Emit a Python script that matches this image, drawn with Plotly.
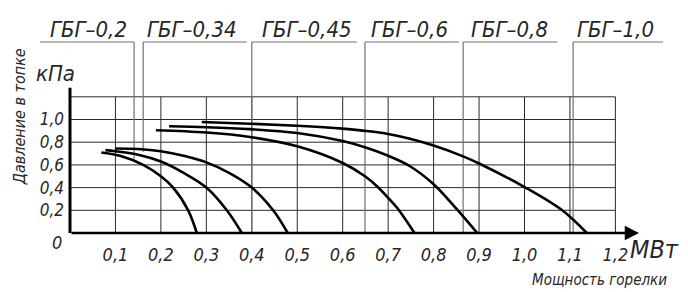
import plotly.graph_objects as go

# ---------------- data ----------------
series_names = ["ГБГ–0,2", "ГБГ–0,34", "ГБГ–0,45", "ГБГ–0,6", "ГБГ–0,8", "ГБГ–1,0"]

x_02 = [0.069, 0.11, 0.161, 0.20, 0.227, 0.26, 0.279]
y_02 = [0.71, 0.68, 0.60, 0.50, 0.40, 0.20, 0.0]

x_034 = [0.078, 0.10, 0.15, 0.20, 0.25, 0.30, 0.345, 0.378]
y_034 = [0.73, 0.72, 0.69, 0.63, 0.53, 0.40, 0.20, 0.0]

x_045 = [0.099, 0.15, 0.20, 0.25, 0.30, 0.35, 0.40, 0.447, 0.479]
y_045 = [0.745, 0.74, 0.72, 0.68, 0.622, 0.53, 0.40, 0.20, 0.0]

x_06 = [0.189, 0.30, 0.396, 0.50, 0.60, 0.649, 0.676, 0.70, 0.72, 0.758]
y_06 = [0.905, 0.885, 0.846, 0.764, 0.617, 0.50, 0.41, 0.31, 0.22, 0.0]

x_08 = [0.218, 0.30, 0.396, 0.50, 0.60, 0.649, 0.70, 0.748, 0.80, 0.851, 0.896]
y_08 = [0.94, 0.932, 0.915, 0.881, 0.81, 0.755, 0.68, 0.588, 0.43, 0.21, 0.0]

x_10 = [0.29, 0.396, 0.50, 0.60, 0.649, 0.70, 0.748, 0.80, 0.865, 0.90, 1.0, 1.083, 1.137]
y_10 = [0.978, 0.963, 0.945, 0.92, 0.90, 0.872, 0.83, 0.77, 0.675, 0.612, 0.405, 0.20, 0.0]

curves_x = [x_02, x_034, x_045, x_06, x_08, x_10]
curves_y = [y_02, y_034, y_045, y_06, y_08, y_10]

# leader lines (label -> curve)
leader_x = [0.141, 0.161, 0.400, 0.649, 0.865, 1.107]
leader_bottom = [0.655, 0.716, 0.0, 0.0, 0.0, 0.0]
underline_x0 = [-0.066, 0.161, 0.400, 0.649, 0.865, 1.107]
underline_x1 = [0.141, 0.389, 0.631, 0.856, 1.072, 1.305]
label_x = [0.040, 0.268, 0.521, 0.748, 0.966, 1.201]
underline_y = 1.683
label_y = 1.797

x_ticks = [0.1, 0.2, 0.3, 0.4, 0.5, 0.6, 0.7, 0.8, 0.9, 1.0, 1.1, 1.2]
x_tick_text = ["0,1", "0,2", "0,3", "0,4", "0,5", "0,6", "0,7", "0,8", "0,9", "1,0", "1,1", "1,2"]
y_ticks = [0.2, 0.4, 0.6, 0.8, 1.0]
y_tick_text = ["0,2", "0,4", "0,6", "0,8", "1,0"]
grid_y = [0.2, 0.4, 0.6, 0.8, 1.0, 1.2]
grid_top = 1.2
grid_right = 1.2
x_arrow_end = 1.252
y_axis_top = 1.28

FONT = "Liberation Sans Narrow, DejaVu Sans Condensed, DejaVu Sans, sans-serif"
TXT = "#262626"

px_per_x = 454.5
px_per_y = 113.5
left_m, right_m, top_m, bot_m = 30, 4, 6, 59
xmin = -(70 - left_m) / px_per_x
xmax = xmin + (688 - left_m - right_m) / px_per_x
ymax = (292 - top_m - bot_m) / px_per_y


def to_paper(x, y):
    return (x - xmin) / (xmax - xmin), y / ymax


fig = go.Figure()

# grid
gx, gy = [], []
for v in x_ticks:
    gx += [v, v, None]
    gy += [0, grid_top, None]
for v in grid_y:
    gx += [0, grid_right, None]
    gy += [v, v, None]
fig.add_trace(go.Scatter(x=gx, y=gy, mode="lines", line=dict(color="#2a2a2a", width=1),
                         hoverinfo="skip", showlegend=False))

# leader lines and underlines
lx, ly = [], []
for i in range(len(series_names)):
    lx += [leader_x[i], leader_x[i], None, underline_x0[i], underline_x1[i], None]
    ly += [leader_bottom[i], underline_y, None, underline_y, underline_y, None]
fig.add_trace(go.Scatter(x=lx, y=ly, mode="lines", line=dict(color="#707070", width=1.2),
                         hoverinfo="skip", showlegend=False))

# curves
for name, cx, cy in zip(series_names, curves_x, curves_y):
    fig.add_trace(go.Scatter(x=cx, y=cy, mode="lines", name=name,
                             line=dict(color="black", width=2.6, shape="spline", smoothing=1.0),
                             showlegend=False))

# y axis line
fig.add_trace(go.Scatter(x=[0, 0], y=[0, y_axis_top], mode="lines",
                         line=dict(color="black", width=3), hoverinfo="skip", showlegend=False))

annotations = [
    dict(x=x_arrow_end, y=0, ax=0, ay=0, xref="x", yref="y", axref="x", ayref="y",
         showarrow=True, arrowhead=2, arrowsize=1.1, arrowwidth=2.6, arrowcolor="black", text="",
         standoff=0, startstandoff=0),
]
for name, xx in zip(series_names, label_x):
    annotations.append(dict(x=xx, y=label_y, xref="x", yref="y", text=name, showarrow=False,
                            xanchor="center", yanchor="middle",
                            font=dict(size=22, family=FONT, color=TXT, style="italic")))


def paper_text(x, y, text, size, angle=0):
    px, py = to_paper(x, y)
    return dict(x=px, y=py, xref="paper", yref="paper", text=text, showarrow=False,
                xanchor="center", yanchor="middle",
                textangle=angle, font=dict(size=size, family=FONT, color=TXT, style="italic"))


annotations += [
    paper_text(-0.031, 1.401, "кПа", 22),
    paper_text(-0.029, -0.088, "0", 18),
    paper_text(1.285, -0.141, "МВт", 25),
    paper_text(1.164, -0.414, "Мощность горелки", 15),
    paper_text(-0.112, 1.02, "Давление в топке", 16, -90),
]

fig.update_layout(
    width=688, height=292,
    margin=dict(l=left_m, r=right_m, t=top_m, b=bot_m),
    paper_bgcolor="white", plot_bgcolor="white",
    font=dict(family=FONT, color=TXT, style="italic"),
    annotations=annotations,
    xaxis=dict(range=[xmin, xmax], showgrid=False, zeroline=False, showline=False,
               tickvals=x_ticks, ticktext=x_tick_text, ticks="",
               tickfont=dict(size=18, family=FONT, color=TXT, style="italic"),
               ticklabelstandoff=9, fixedrange=True),
    yaxis=dict(range=[0, ymax], showgrid=False, zeroline=False, showline=False,
               anchor="free", position=(70 - left_m) / (688 - left_m - right_m),
               tickvals=y_ticks, ticktext=y_tick_text, ticks="",
               tickfont=dict(size=17, family=FONT, color=TXT, style="italic"),
               ticklabelstandoff=6, fixedrange=True),
)

fig.write_html("out.html")
